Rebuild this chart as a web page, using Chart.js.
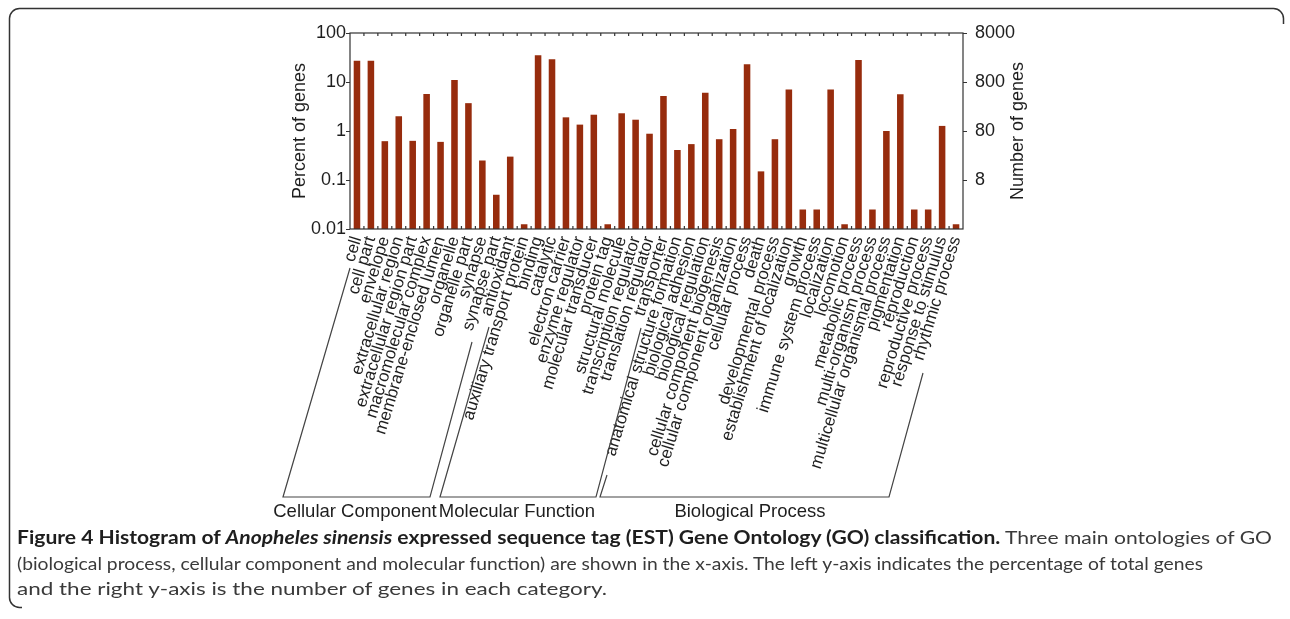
<!DOCTYPE html>
<html>
<head>
<meta charset="utf-8">
<script src="https://cdn.jsdelivr.net/npm/chart.js@4.4.1/dist/chart.umd.min.js"></script>
<style>
  html, body { margin: 0; padding: 0; background: #fff; }
  #wrap { position: relative; width: 1290px; height: 619px; overflow: hidden; }
  #goChart { position: absolute; left: 0; top: 0; }
  .cap { position: absolute; left: 17px; white-space: nowrap; font-family: Lato, "Open Sans", sans-serif;
         font-size: 18px; line-height: 22px; color: #3a3a3a; transform-origin: 0 0; }
  .cap b { color: #1e1e1e; }
</style>
</head>
<body>
<div id="wrap">
  <canvas id="goChart" width="1290" height="619"></canvas>
  <div class="cap" id="cap1" data-w="1255" style="top:526px"><b>Figure 4 Histogram of <i>Anopheles sinensis</i> expressed sequence tag (EST) Gene Ontology (GO) classification.</b> Three main ontologies of GO</div>
  <div class="cap" id="cap2" data-w="1186" style="top:552px">(biological process, cellular component and molecular function) are shown in the x-axis. The left y-axis indicates the percentage of total genes</div>
  <div class="cap" id="cap3" data-w="590" style="top:577px">and the right y-axis is the number of genes in each category.</div>
</div>
<script>
const categories = [
    "cell", "cell part", "envelope", "extracellular region", "extracellular region part",
    "macromolecular complex", "membrane-enclosed lumen", "organelle", "organelle part",
    "synapse", "synapse part",
    "antioxidant", "auxiliary transport protein", "binding", "catalytic", "electron carrier",
    "enzyme regulator", "molecular transducer", "protein tag", "structural molecule",
    "transcription regulator", "translation regulator", "transporter",
    "anatomical structure formation", "biological adhesion", "biological regulation",
    "cellular component biogenesis", "cellular component organization", "cellular process",
    "death", "developmental process", "establishment of localization", "growth",
    "immune system process", "localization", "locomotion", "metabolic process",
    "multi-organism process", "multicellular organismal process", "pigmentation",
    "reproduction", "reproductive process", "response to stimulus", "rhythmic process"
];

const percentOfGenes = [
    27, 27, 0.62, 2.0, 0.63, 5.7, 0.6, 11, 3.7, 0.25, 0.05,
    0.3, 0.0125, 35, 29, 1.9, 1.35, 2.15, 0.0125, 2.3, 1.7, 0.88, 5.2,
    0.41, 0.54, 6.0, 0.68, 1.1, 23, 0.15, 0.68, 7.0, 0.025,
    0.025, 7.0, 0.0125, 28, 0.025, 1.0, 5.6,
    0.025, 0.025, 1.27, 0.0125
];

const groupNames = ["Cellular Component", "Molecular Function", "Biological Process"];
const leftTicks = [0.01, 0.1, 1, 10, 100];
const rightTicks = [8, 80, 800, 8000];

const FONT = "'Liberation Sans', Arial, Helvetica, sans-serif";
const INK = "#1e1e1e";

// brackets under the category labels (page pixels)
const brackets = [
    { pts: [[350, 268], [283, 497], [430, 497], [472, 342]], label: [355, 512] },
    { pts: [[489, 327], [440, 497], [596, 497], [641, 328]], label: [517, 512] },
    { pts: [[607, 475], [600, 497], [889, 497], [923, 373]], label: [750, 512] }
];

const decorPlugin = {
    id: "decor",
    afterDraw(chart) {
        const ctx = chart.ctx;
        const a = chart.chartArea;
        const x = chart.scales.x;
        ctx.save();

        // figure frame
        ctx.strokeStyle = "#333";
        ctx.lineWidth = 1.5;
        ctx.beginPath();
        ctx.moveTo(22, 607.5);
        ctx.arcTo(9.5, 607.5, 9.5, 595, 10);
        ctx.lineTo(9.5, 20);
        ctx.arcTo(9.5, 8.5, 22, 8.5, 10);
        ctx.lineTo(1272, 8.5);
        ctx.arcTo(1283.5, 8.5, 1283.5, 20, 10);
        ctx.lineTo(1283.5, 24);
        ctx.stroke();

        // plot box and inner ticks
        ctx.strokeStyle = "#333";
        ctx.lineWidth = 1.2;
        ctx.strokeRect(a.left, a.top, a.right - a.left, a.bottom - a.top);
        ctx.beginPath();
        for (let i = 1; i < categories.length; i++) {
            const xp = (x.getPixelForValue(i - 1) + x.getPixelForValue(i)) / 2;
            ctx.moveTo(xp, a.top);
            ctx.lineTo(xp, a.top + 3);
            ctx.moveTo(xp, a.bottom);
            ctx.lineTo(xp, a.bottom - 3);
        }
        ctx.stroke();

        // right axis title
        ctx.fillStyle = INK;
        ctx.font = "18px " + FONT;
        ctx.textAlign = "center";
        ctx.textBaseline = "middle";
        ctx.save();
        ctx.translate(1018, (a.top + a.bottom) / 2);
        ctx.rotate(-Math.PI / 2);
        ctx.fillText("Number of genes", 0, 0);
        ctx.restore();

        // ontology brackets
        ctx.strokeStyle = "#444";
        ctx.lineWidth = 1.2;
        ctx.font = "18.5px " + FONT;
        brackets.forEach((b, i) => {
            ctx.beginPath();
            b.pts.forEach((p, j) => j ? ctx.lineTo(p[0], p[1]) : ctx.moveTo(p[0], p[1]));
            ctx.stroke();
            ctx.fillText(groupNames[i], b.label[0], b.label[1]);
        });
        ctx.restore();
    }
};

new Chart(document.getElementById("goChart"), {
    type: "bar",
    data: {
        labels: categories,
        datasets: [{
            data: percentOfGenes,
            backgroundColor: "#972c0d",
            barPercentage: 0.47,
            categoryPercentage: 1
        }]
    },
    options: {
        responsive: false,
        animation: false,
        layout: { padding: { left: 289, right: 261, top: 33, bottom: 0 } },
        plugins: { legend: { display: false }, tooltip: { enabled: false } },
        scales: {
            x: {
                grid: { display: false, drawTicks: false },
                border: { display: false },
                afterFit: s => { s.height = 390; },
                ticks: {
                    autoSkip: false,
                    minRotation: 73,
                    maxRotation: 73,
                    padding: 5,
                    color: INK,
                    font: { family: FONT, size: 17 }
                }
            },
            y: {
                type: "logarithmic",
                position: "left",
                min: 0.01,
                max: 100,
                afterFit: s => { s.width = 61; },
                afterBuildTicks: s => { s.ticks = leftTicks.map(v => ({ value: v })); },
                grid: { drawOnChartArea: false, drawTicks: true, tickLength: 4, color: "#333" },
                border: { display: false },
                ticks: {
                    padding: 0,
                    color: INK,
                    font: { family: FONT, size: 18 },
                    callback: v => String(v)
                },
                title: {
                    display: true,
                    text: "Percent of genes",
                    color: INK,
                    padding: 0,
                    font: { family: FONT, size: 18 }
                }
            },
            y2: {
                type: "logarithmic",
                position: "right",
                min: 0.8,
                max: 8000,
                afterFit: s => { s.width = 66; },
                afterBuildTicks: s => { s.ticks = rightTicks.map(v => ({ value: v })); },
                grid: { drawOnChartArea: false, drawTicks: true, tickLength: 4, color: "#333" },
                border: { display: false },
                ticks: {
                    padding: 8,
                    color: INK,
                    font: { family: FONT, size: 18 },
                    callback: v => String(v)
                }
            }
        }
    },
    plugins: [decorPlugin]
});

function fitCaptions() {
    document.querySelectorAll(".cap").forEach(el => {
        el.style.transform = "none";
        const w = el.getBoundingClientRect().width;
        const target = Number(el.dataset.w);
        if (w > 0) el.style.transform = "scaleX(" + (target / w) + ")";
    });
}
fitCaptions();
if (document.fonts && document.fonts.ready) document.fonts.ready.then(fitCaptions);
</script>
</body>
</html>
